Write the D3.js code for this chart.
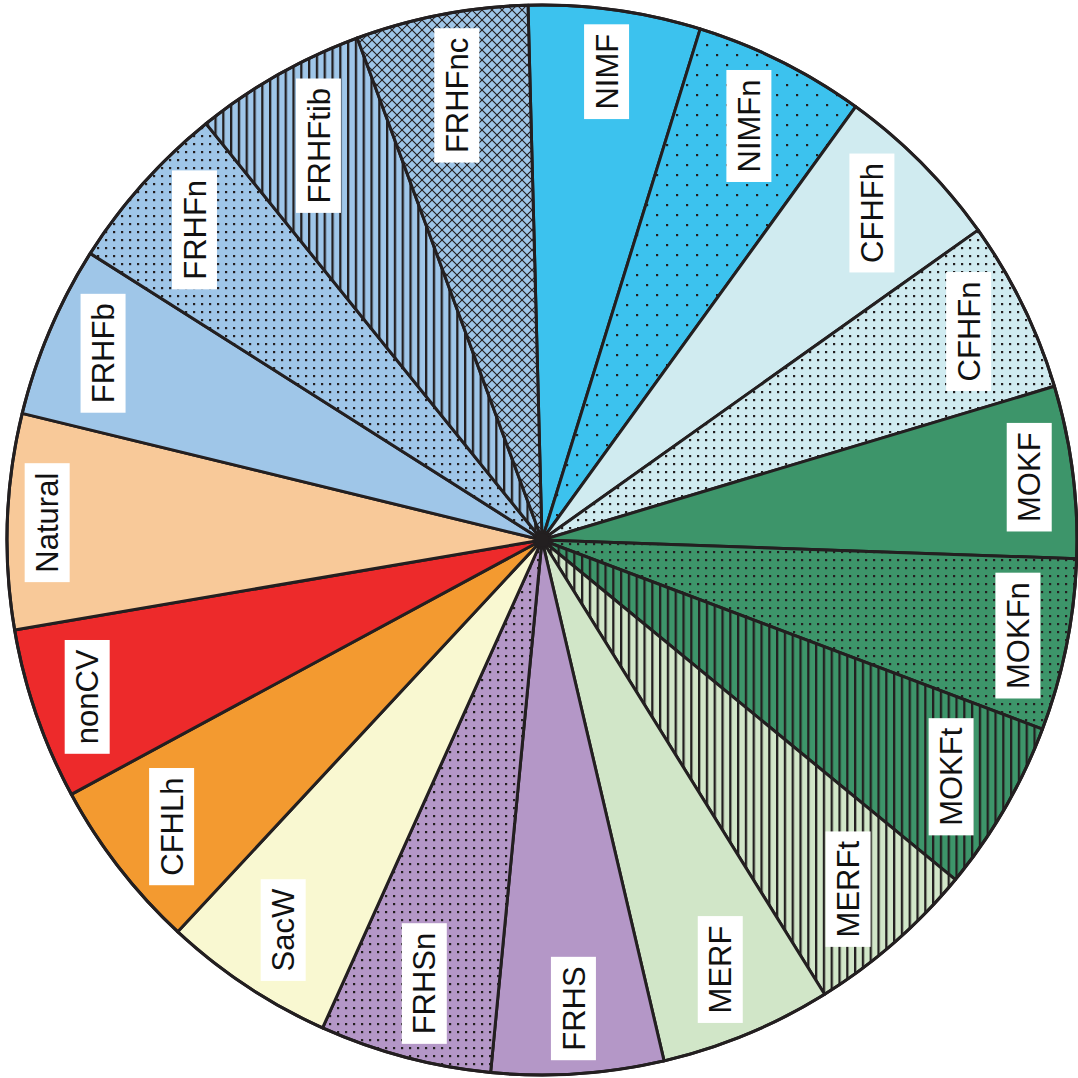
<!DOCTYPE html>
<html>
<head>
<meta charset="utf-8">
<script src="https://cdn.jsdelivr.net/npm/d3@7"></script>
<style>
  html, body { margin: 0; padding: 0; background: #fff; }
  svg { display: block; }
</style>
</head>
<body>
<div id="chart"></div>
<script>
// slices clockwise from the top
const categories = ["NIMF", "NIMFn", "CFHFh", "CFHFn", "MOKF", "MOKFn", "MOKFt", "MERFt", "MERF",
    "FRHS", "FRHSn", "SacW", "CFHLh", "nonCV", "Natural", "FRHFb", "FRHFn", "FRHFtib", "FRHFnc"]
const shares = [1, 1, 1, 1, 1, 1, 1, 1, 1, 1, 1, 1, 1, 1, 1.25, 1, 1, 1, 1]
const baseColors = ["#3cc2ee", "#3cc2ee", "#d0ebf0", "#d0ebf0", "#3d956a", "#3d956a", "#3d956a", "#d1e6c8", "#d1e6c8",
    "#b497c7", "#b497c7", "#f9f8d1", "#f39a30", "#ed2a2b", "#f8c999", "#9fc6e8", "#9fc6e8", "#9fc6e8", "#9fc6e8"]
const textures = ["none", "sparse", "none", "dots", "none", "dots", "vlines", "vlines", "none",
    "none", "dots", "none", "none", "none", "none", "none", "dots", "vlines", "cross"]

var W = 1078, H = 1078
var cx = 542, cy = 540, R = 535
var ink = "#231f20"
var fontSize = 31
var cornerReach = 523

var svg = d3.select("#chart").append("svg")
    .attr("width", W)
    .attr("height", H)

var defs = svg.append("defs")

var color = d3.scaleOrdinal().domain(categories).range(baseColors)

// one pattern per textured slice
function makePattern(id, kind, bg) {
    var p = defs.append("pattern")
	.attr("id", id)
	.attr("patternUnits", "userSpaceOnUse")
    if (kind === "dots") {
	p.attr("width", 8).attr("height", 8)
	p.append("rect").attr("width", 8).attr("height", 8).attr("fill", bg)
	p.append("rect").attr("x", 3).attr("y", 3).attr("width", 2.2).attr("height", 2.2).attr("fill", ink)
    } else if (kind === "sparse") {
	p.attr("width", 20).attr("height", 20)
	p.append("rect").attr("width", 20).attr("height", 20).attr("fill", bg)
	p.append("rect").attr("x", 4).attr("y", 4).attr("width", 2.2).attr("height", 2.2).attr("fill", ink)
	p.append("rect").attr("x", 14).attr("y", 14).attr("width", 2.2).attr("height", 2.2).attr("fill", ink)
    } else if (kind === "vlines") {
	p.attr("width", 7.8).attr("height", 10)
	p.append("rect").attr("width", 7.8).attr("height", 10).attr("fill", bg)
	p.append("rect").attr("x", 0).attr("y", 0).attr("width", 2.3).attr("height", 10).attr("fill", ink)
    } else if (kind === "cross") {
	p.attr("width", 10).attr("height", 10)
	p.append("rect").attr("width", 10).attr("height", 10).attr("fill", bg)
	p.append("path")
	    .attr("d", "M0 0L10 10M10 0L0 10")
	    .attr("stroke", ink)
	    .attr("stroke-width", 1.1)
	    .attr("fill", "none")
    }
}

var fills = categories.map(function(c, i) {
    if (textures[i] === "none") return color(c)
    var id = "tex-" + i
    makePattern(id, textures[i], color(c))
    return "url(#" + id + ")"
})

var start = -1.5 * Math.PI / 180
var pie = d3.pie()
    .sort(null)
    .value(function(d) { return d.value })
    .startAngle(start)
    .endAngle(start + 2 * Math.PI)

var rows = categories.map(function(c, i) {
    return { name: c, value: shares[i], fill: fills[i] }
})
var arcs = pie(rows)

var arc = d3.arc().innerRadius(0).outerRadius(R)

var g = svg.append("g").attr("transform", "translate(" + cx + "," + cy + ")")

g.selectAll("path.slice")
    .data(arcs)
    .enter()
    .append("path")
    .attr("class", "slice")
    .attr("d", arc)
    .attr("fill", function(d) { return d.data.fill })
    .attr("stroke", ink)
    .attr("stroke-width", 3)
    .attr("stroke-linejoin", "round")

g.append("circle")
    .attr("r", R)
    .attr("fill", "none")
    .attr("stroke", ink)
    .attr("stroke-width", 3)

g.append("circle").attr("r", 7).attr("fill", ink)

// labels: white box with vertical text, pushed out until its far corner hits cornerReach
var lab = g.selectAll("g.lab")
    .data(arcs)
    .enter()
    .append("g")
    .attr("class", "lab")

lab.each(function(d) {
    var node = d3.select(this)
    var box = node.append("rect").attr("fill", "#fff")
    var txt = node.append("text")
	.attr("transform", "rotate(-90)")
	.attr("text-anchor", "middle")
	.attr("y", fontSize * 0.358)
	.attr("font-family", "'Liberation Sans', Arial, Helvetica, sans-serif")
	.attr("font-size", fontSize)
	.attr("fill", "#111")
	.text(d.data.name)
    var len = txt.node().getComputedTextLength()
    var w = fontSize + 14
    var h = len + 19
    box.attr("x", -w / 2).attr("y", -h / 2).attr("width", w).attr("height", h)
    var mid = (d.startAngle + d.endAngle) / 2
    var ux = Math.sin(mid), uy = -Math.cos(mid)
    var b = Math.abs(ux) * w / 2 + Math.abs(uy) * h / 2
    var c = (w * w + h * h) / 4 - cornerReach * cornerReach
    var r = -b + Math.sqrt(b * b - c)
    node.attr("transform", "translate(" + (r * ux) + "," + (r * uy) + ")")
})
</script>
</body>
</html>
